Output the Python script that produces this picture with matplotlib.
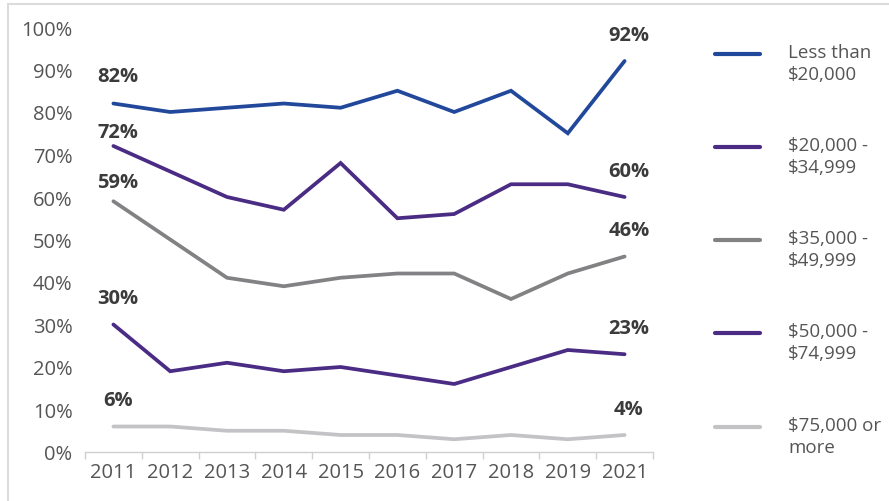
import matplotlib
matplotlib.use("Agg")
import matplotlib.pyplot as plt
from matplotlib.lines import Line2D

years = ["2011", "2012", "2013", "2014", "2015", "2016", "2017", "2018", "2019", "2021"]

under_20k = [82, 80, 81, 82, 81, 85, 80, 85, 75, 92]
from_20k_35k = [72, 66, 60, 57, 68, 55, 56, 63, 63, 60]
from_35k_50k = [59, 50, 41, 39, 41, 42, 42, 36, 42, 46]
from_50k_75k = [30, 19, 21, 19, 20, 18, 16, 20, 24, 23]
over_75k = [6, 6, 5, 5, 4, 4, 3, 4, 3, 4]

labels = ["Less than\n$20,000", "$20,000 -\n$34,999", "$35,000 -\n$49,999",
          "$50,000 -\n$74,999", "$75,000 or\nmore"]
colors = ["#22489b", "#4b2c85", "#828285", "#4b2c85", "#c3c3c6"]
series = [under_20k, from_20k_35k, from_35k_50k, from_50k_75k, over_75k]

# vertical offset (points) for the first-year value label
first_offsets = [20, 10, 14, 19, 19]

plt.rcParams['font.family'] = ['Open Sans', 'DejaVu Sans']

fig = plt.figure(figsize=(8.89, 5.02), dpi=100)
ax = fig.add_axes([85 / 889, 1 - 453 / 502, 568 / 889, 425 / 502])

x = list(range(len(years)))
for vals, col, off in zip(series, colors, first_offsets):
    ax.plot(x, [v / 100 for v in vals], color=col, lw=2.7, solid_capstyle='round',
            solid_joinstyle='miter')
    ax.annotate(f"{vals[0]}%", (x[0], vals[0] / 100), xytext=(3, off),
                textcoords='offset points', ha='center', va='center',
                fontsize=14.5, fontweight='bold', color='#3b3b3b')
    ax.annotate(f"{vals[-1]}%", (x[-1], vals[-1] / 100), xytext=(3, 19),
                textcoords='offset points', ha='center', va='center',
                fontsize=14.5, fontweight='bold', color='#3b3b3b')

ax.set_xlim(-0.5, len(years) - 0.5)
ax.set_ylim(0, 1)
ax.set_yticks([i / 10 for i in range(11)])
ax.set_yticklabels([f"{i * 10}%" for i in range(11)])
ax.set_xticks(x)
ax.set_xticklabels(years)
ax.set_xticks([i - 0.5 for i in range(len(years) + 1)], minor=True)

for s in ['top', 'right', 'left']:
    ax.spines[s].set_visible(False)
ax.spines['bottom'].set_color('#d0d0d0')
ax.spines['bottom'].set_linewidth(1.0)
ax.tick_params(axis='x', which='major', length=0, pad=7, labelsize=14.5, labelcolor='#555555')
ax.tick_params(axis='x', which='minor', length=5, color='#d0d0d0', width=1.0)
ax.tick_params(axis='y', length=0, pad=9, labelsize=14.5, labelcolor='#555555')

# legend on the right, line aligned with the first text row
legend_y = [55, 148, 241, 334, 428]
for lab, col, ly in zip(labels, colors, legend_y):
    yf = 1 - ly / 502
    fig.add_artist(Line2D([715 / 889, 760 / 889], [yf, yf], color=col, lw=3,
                          solid_capstyle='round', transform=fig.transFigure))
    fig.text(788 / 889, 1 - (ly - 11) / 502, lab, ha='left', va='top',
             fontsize=13.5, color='#555555', linespacing=1.3)

# thin frame on the left and top edge
fig.add_artist(Line2D([8 / 889, 8 / 889], [0, 1 - 5 / 502], color='#dcdcdc', lw=1.5,
                      transform=fig.transFigure))
fig.add_artist(Line2D([8 / 889, 1], [1 - 5 / 502, 1 - 5 / 502], color='#dcdcdc', lw=1.5,
                      transform=fig.transFigure))

fig.savefig("out.png", dpi=100)
